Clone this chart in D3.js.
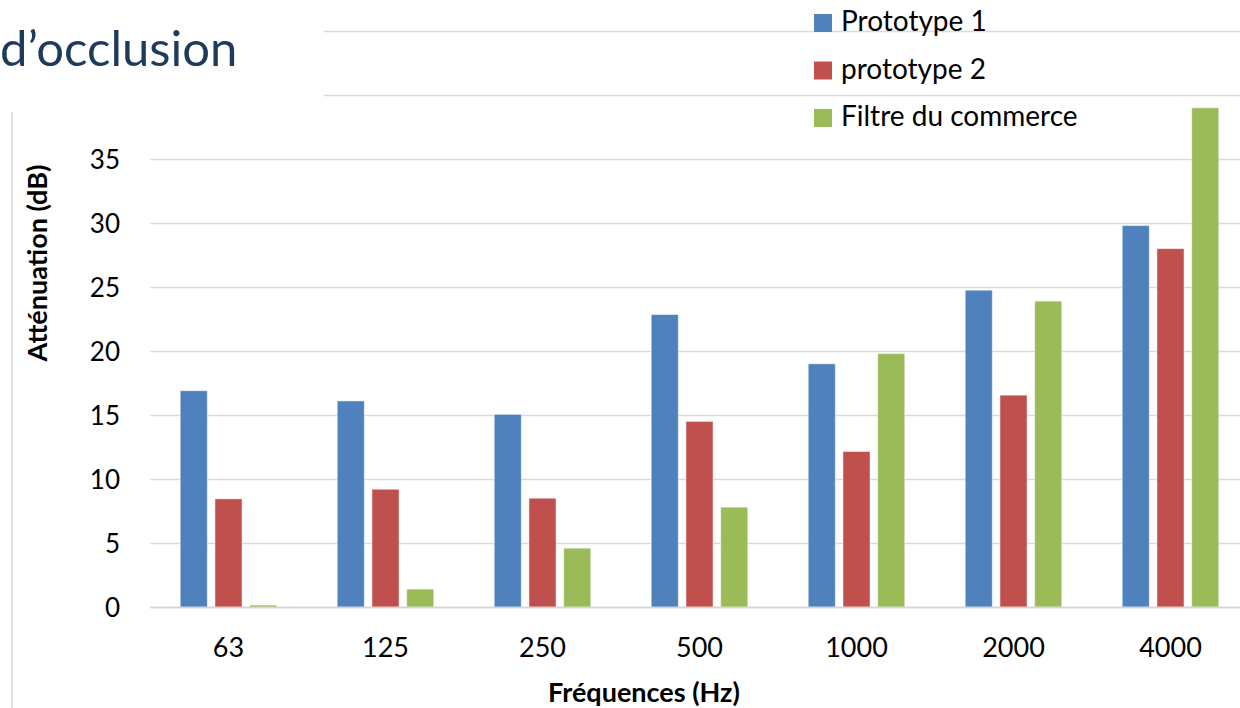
<!DOCTYPE html>
<html>
<head>
<meta charset="utf-8">
<script src="https://d3js.org/d3.v7.min.js"></script>
<style>
  body { margin: 0; background: #fff; }
  text { font-family: Lato, "Open Sans", sans-serif; fill: #000; }
</style>
</head>
<body>
<svg id="chart" width="1240" height="708"></svg>
<script>
var frequencies = ['63', '125', '250', '500', '1000', '2000', '4000'];
var seriesNames = ['Prototype 1', 'prototype 2', 'Filtre du commerce'];
var prototype1 = [16.9, 16.1, 15.05, 22.85, 19.0, 24.75, 29.8];
var prototype2 = [8.45, 9.2, 8.5, 14.5, 12.15, 16.55, 28.0];
var filtreCommerce = [0.15, 1.4, 4.6, 7.8, 19.8, 23.9, 39.0];
var yTicks = [0, 5, 10, 15, 20, 25, 30, 35, 40, 45];
var yLabelled = [0, 5, 10, 15, 20, 25, 30, 35]; // 40 and 45 sit under the title box

var colors = ['#4F81BD', '#C0504D', '#9BBB59'];
var allSeries = [prototype1, prototype2, filtreCommerce];

var svg = d3.select("#chart");

var x = d3.scaleBand()
    .domain(frequencies)
    .range([150, 1249]);

var xSub = d3.scaleBand()
    .domain(seriesNames)
    .range([0, x.bandwidth()])
    .paddingInner(0.22)
    .paddingOuter(0.87);

var y = d3.scaleLinear()
    .domain([0, 45])
    .range([607, 31]);

// gridlines + y labels
var yAxis = d3.axisLeft(y)
    .tickValues(yTicks)
    .tickFormat(d => yLabelled.indexOf(d) >= 0 ? d : "")
    .tickSize(-(1240 - 150))
    .tickPadding(30);

var gy = svg.append("g")
    .attr("transform", "translate(150,0)")
    .call(yAxis);
gy.select(".domain").remove();
gy.selectAll(".tick line")
    .style("stroke", "#DADADA")
    .style("stroke-width", "1.6px");
gy.selectAll(".tick text")
    .filter(d => yLabelled.indexOf(d) < 0)
    .remove();
gy.selectAll(".tick text")
    .style("font-size", "26px")
    .style("fill", "#000")
    .attr("dy", "0.36em");

// bars
var groups = svg.selectAll(".serie")
    .data(allSeries)
    .enter()
    .append("g")
    .attr("class", "serie")
    .style("fill", (d, i) => colors[i]);

groups.selectAll("rect")
    .data((d, i) => d.map((v, j) => ({ freq: frequencies[j], name: seriesNames[i], value: v })))
    .enter()
    .append("rect")
    .attr("x", d => x(d.freq) + xSub(d.name))
    .attr("y", d => y(d.value))
    .attr("width", xSub.bandwidth())
    .attr("height", d => y(0) - y(d.value))
    .style("stroke", "#ffffff")
    .style("stroke-opacity", 0.5)
    .style("stroke-width", "1px");

// x axis
var xAxis = d3.axisBottom(x).tickSize(0).tickPadding(31);
var gx = svg.append("g")
    .attr("transform", "translate(0," + y(0) + ")")
    .call(xAxis);
gx.select(".domain")
    .style("stroke", "#D4D4D4")
    .style("stroke-width", "1.6px");
gx.selectAll(".tick text")
    .style("font-size", "27px")
    .style("fill", "#000");

// axis titles
svg.append("text")
    .attr("transform", "translate(47,263) rotate(-90)")
    .attr("text-anchor", "middle")
    .style("font-size", "27px")
    .style("font-weight", "bold")
    .text("Atténuation (dB)");

svg.append("text")
    .attr("x", 644)
    .attr("y", 702)
    .attr("text-anchor", "middle")
    .style("font-size", "27px")
    .style("font-weight", "bold")
    .text("Fréquences (Hz)");

// slide title box over the chart corner
svg.append("rect")
    .attr("x", 0)
    .attr("y", 0)
    .attr("width", 324)
    .attr("height", 108)
    .style("fill", "#fff");

svg.append("line")
    .attr("x1", 12).attr("x2", 12)
    .attr("y1", 112).attr("y2", 708)
    .style("stroke", "#DADADA")
    .style("stroke-width", "1.5px");

svg.append("text")
    .attr("x", 0)
    .attr("y", 66)
    .style("font-size", "49px")
    .style("fill", "#1F3B5C")
    .text("d’occlusion");

// legend
var legend = svg.selectAll(".legend")
    .data(seriesNames)
    .enter()
    .append("g")
    .attr("class", "legend")
    .attr("transform", (d, i) => "translate(814," + (14 + i * 47.5) + ")");

legend.append("rect")
    .attr("width", 18)
    .attr("height", 18)
    .style("fill", (d, i) => colors[i]);

legend.append("text")
    .attr("x", 27)
    .attr("y", 17)
    .style("font-size", "28px")
    .text(d => d);
</script>
</body>
</html>
